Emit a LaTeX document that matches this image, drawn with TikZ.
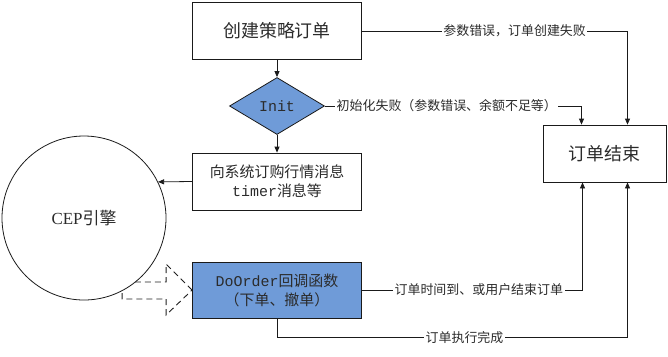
\documentclass[tikz,border=0pt]{standalone}
\usepackage{fontspec}
\setmainfont{Noto Sans CJK SC}
\setmonofont{Liberation Mono}
\newfontfamily\latinserif{Liberation Serif}
\usepackage{xcolor}
\definecolor{cLine}{HTML}{1A1A1A}
\definecolor{cText}{HTML}{2B2B2B}
\definecolor{cFill}{HTML}{6F9BD8}
\definecolor{cDash}{HTML}{202020}
\usetikzlibrary{positioning,arrows.meta,shapes.geometric,calc}
\tikzset{
  node-box/.style={draw=cLine,line width=0.8bp,minimum width=169bp,
    minimum height=57bp,align=center,text=cText,inner sep=2bp},
  node-blue/.style={fill=cFill},
  node-label/.style={fill=white,inner sep=1.5bp,text=cText,
    font=\fontsize{13}{15}\selectfont},
  arrow/.style={-{Triangle[length=6bp,width=5bp]},line width=0.8bp,draw=cLine},
  arrow-block/.style={dashed,dash pattern=on 6bp off 4bp,line width=0.9bp,draw=cDash},
}

\begin{document}
\begin{tikzpicture}[x=1bp,y=-1bp]
  \useasboundingbox (0,0) rectangle (668,356);
  % 流程中的各个框
  \node[node-box,font=\fontsize{18}{20}\selectfont] (create) at (277,31) {创建策略订单};
  \node[node-box,node-blue,diamond,minimum width=95bp,minimum height=57bp,
    inner sep=0pt,font=\fontsize{15}{17}\selectfont] (init) at (277,106) {\ttfamily Init};
  \node[node-box,font=\fontsize{15}{19}\selectfont] (subscribe) at (277,181.5)
    {向系统订购行情消息\\{\ttfamily timer}消息等};
  \node[node-box,node-blue,minimum height=56bp,font=\fontsize{15}{19}\selectfont]
    (doorder) at (277,290) {{\ttfamily DoOrder}回调函数\\（下单、撤单）};
  \node[node-box,minimum width=123bp,font=\fontsize{18}{20}\selectfont]
    (finish) at (604.5,153.5) {订单结束};
  % 虚线大箭头 (在圆的后面)
  \draw[arrow-block] (doorder.west) -- ++(-26,-26) -- ++(0,18) -- ++(-44,0)
    -- ++(0,17) -- ++(44,0) -- ++(0,16) -- cycle;
  \node[draw=cLine,line width=0.8bp,circle,fill=white,minimum size=164bp,
    text=cText,font=\fontsize{17}{19}\selectfont] (cep) at (84,218) {{\latinserif CEP}引擎};
  \coordinate (inL) at ($(finish.north)+(-23,0)$);
  \coordinate (inR) at ($(finish.north)+(23,0)$);
  \coordinate (outL) at ($(finish.south)+(-22,0)$);
  \coordinate (outR) at ($(finish.south)+(23,0)$);
  % 连线
  \draw[arrow] (create) -- (init);
  \draw[arrow] (init) -- (subscribe);
  \draw[arrow] (subscribe.west) -- (cep.26);
  \draw[arrow] (create.east) -- node[node-label,pos=0.575]{参数错误，订单创建失败}
    (create.east -| inR) -- (inR);
  \draw[arrow] (init.east) -- node[node-label,pos=0.475]{初始化失败（参数错误、余额不足等）}
    (init.east -| inL) -- (inL);
  \draw[arrow] (doorder.east) -- node[node-label,pos=0.53]{订单时间到、或用户结束订单}
    (doorder.east -| outL) -- (outL);
  \draw[arrow] (doorder.south) -- ++(0,19) coordinate (bend)
    -- node[node-label,pos=0.535]{订单执行完成} (bend -| outR) -- (outR);
\end{tikzpicture}
\end{document}
